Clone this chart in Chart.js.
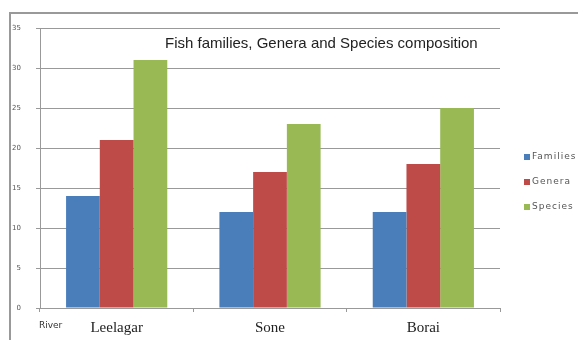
<!doctype html>
<html>
<head>
	<title>Fish families, Genera and Species composition</title>
	<script src="https://cdn.jsdelivr.net/npm/chart.js@4"></script>
	<style>
	html, body { margin: 0; padding: 0; background: #fff; }
	canvas { display: block; }
	</style>
</head>
<body>
	<canvas id="chart" width="578" height="340"></canvas>
	<script>
		var rivers = ['Leelagar', 'Sone', 'Borai'];
		var families = [14, 12, 12];
		var genera = [21, 17, 18];
		var species = [31, 23, 25];
		var yTicks = [0, 5, 10, 15, 20, 25, 30, 35];

		var frame = {
			id: 'frame',
			beforeDraw: function(chart) {
				var ctx = chart.ctx;
				ctx.save();
				ctx.fillStyle = '#fff';
				ctx.fillRect(0, 0, chart.width, chart.height);
				ctx.strokeStyle = '#999';
				ctx.lineWidth = 2;
				ctx.strokeRect(10, 13, chart.width + 10, chart.height + 10);
				ctx.restore();
			},
			afterDraw: function(chart) {
				var ctx = chart.ctx;
				ctx.save();
				// title inside the plot
				ctx.fillStyle = '#222';
				ctx.font = '15px "Liberation Sans", Arial, sans-serif';
				ctx.textBaseline = 'middle';
				ctx.textAlign = 'left';
				ctx.fillText('Fish families, Genera and Species composition', 165, 44);
				// axis caption
				ctx.fillStyle = '#333';
				ctx.font = '9px "DejaVu Sans", sans-serif';
				ctx.fillText('River', 39, 326);
				// legend
				ctx.font = '9px "DejaVu Sans", sans-serif';
				ctx.letterSpacing = '1px';
				chart.data.datasets.forEach(function(ds, i) {
					var y = 157 + i * 25;
					ctx.fillStyle = ds.backgroundColor;
					ctx.fillRect(524, y - 3, 6, 6);
					ctx.fillStyle = '#555';
					ctx.fillText(ds.label, 532, y);
				});
				ctx.restore();
			}
		};

		window.onload = function() {
			var ctx = document.getElementById('chart').getContext('2d');
			new Chart(ctx, {
				type: 'bar',
				data: {
					labels: rivers,
					datasets: [{
						label: 'Families',
						data: families,
						backgroundColor: '#4a7ebb'
					}, {
						label: 'Genera',
						data: genera,
						backgroundColor: '#be4b48'
					}, {
						label: 'Species',
						data: species,
						backgroundColor: '#98b954'
					}]
				},
				options: {
					responsive: false,
					maintainAspectRatio: false,
					animation: false,
					layout: { padding: { left: 0, right: 78, top: 28, bottom: 0 } },
					datasets: {
						bar: { categoryPercentage: 0.66, barPercentage: 1 }
					},
					plugins: {
						legend: { display: false },
						title: { display: false },
						tooltip: { enabled: false }
					},
					scales: {
						x: {
							afterFit: function(scale) { scale.height = 32; },
							grid: { drawOnChartArea: false, drawTicks: true, tickLength: 4, color: '#999' },
							border: { color: '#999' },
							ticks: {
								padding: 7,
								color: '#222',
								font: { family: '"Liberation Serif", "Times New Roman", serif', size: 15 }
							}
						},
						y: {
							min: 0,
							max: 35,
							afterFit: function(scale) { scale.width = 40; },
							afterBuildTicks: function(scale) {
								scale.ticks = yTicks.map(function(v) { return { value: v }; });
							},
							grid: { color: '#999', tickLength: 4 },
							border: { color: '#999' },
							ticks: {
								padding: 15,
								color: '#555',
								font: { family: '"DejaVu Sans", sans-serif', size: 7 }
							}
						}
					}
				},
				plugins: [frame]
			});
		};
	</script>
</body>
</html>
